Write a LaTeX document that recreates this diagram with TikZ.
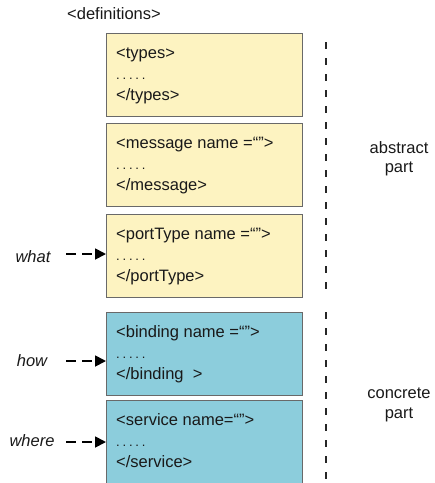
\documentclass[tikz,border=0pt]{standalone}
\usepackage{fontspec}
\setmainfont{Liberation Sans}
\usetikzlibrary{arrows.meta}

\definecolor{abstractfill}{RGB}{253,243,193}
\definecolor{concretefill}{RGB}{140,205,220}
\definecolor{boxline}{RGB}{105,105,105}
\definecolor{inktext}{RGB}{25,25,25}

\tikzset{
  part/.style={draw=boxline, line width=1pt, minimum width=196pt, minimum height=83pt,
    anchor=north west, inner sep=0pt},
  codeline/.style={anchor=base west, inner sep=0pt, font=\fontsize{16.5}{19}\selectfont, text=inktext},
  sidelabel/.style={anchor=base, inner sep=0pt, font=\fontsize{16.5}{19}\selectfont\itshape, text=inktext},
  rightlabel/.style={anchor=base, inner sep=0pt, font=\fontsize{16.5}{19}\selectfont, text=inktext},
  divider/.style={line width=2.2pt, draw=black!85, dash pattern=on 7pt off 9pt},
  pointer/.style={line width=1.8pt, dash pattern=on 10pt off 6pt,
    -{Triangle[length=11pt,width=11pt]}}
}

\newcommand{\dotrow}{{\fontsize{13}{15}\selectfont.\kern2.8pt.\kern2.8pt.\kern2.8pt.\kern2.8pt.}}

% one WSDL element: box, opening tag, dots, closing tag
\newcommand{\wsdlpart}[6][83pt]{%
  \node[part, fill=#4, minimum height=#1] (#2) at (106,#3) {};
  \node[codeline] (#2-open)  at ([xshift=10pt,yshift=-25pt]#2.north west) {#5};
  \node[codeline] (#2-dots)  at ([xshift=10pt,yshift=-46pt]#2.north west) {\dotrow};
  \node[codeline] (#2-close) at ([xshift=10pt,yshift=-67pt]#2.north west) {#6};
}

\begin{document}
\begin{tikzpicture}[x=1pt,y=-1pt]
  \useasboundingbox (0,0) rectangle (435,483);
  \clip (0,0) rectangle (435,483);
  \fill[white] (0,0) rectangle (435,483);

  \node[codeline] (defs) at (67,19) {<definitions>};

  \wsdlpart{types}{33}{abstractfill}{<types>}{</types>}
  \wsdlpart{message}{123}{abstractfill}{<message name =“”>}{</message>}
  \wsdlpart{porttype}{214}{abstractfill}{<portType name =“”>}{</portType>}
  \wsdlpart{binding}{312}{concretefill}{<binding name =“”>}{</binding\ \ >}
  \wsdlpart[100pt]{service}{400}{concretefill}{<service name=“”>}{</service>}

  % dividers between abstract and concrete parts
  \coordinate (absTop) at (326,42);
  \coordinate (absBot) at (326,296);
  \coordinate (conTop) at (326,312);
  \coordinate (conBot) at (326,490);
  \draw[divider] (absTop) -- (absBot);
  \draw[divider] (conTop) -- (conBot);

  \node[rightlabel] (abstract1) at (399,153) {abstract};
  \node[rightlabel] (abstract2) at (399,172) {part};
  \node[rightlabel] (concrete1) at (399,398) {concrete};
  \node[rightlabel] (concrete2) at (399,418) {part};

  % what / how / where pointers
  \node[sidelabel] (what) at (33,262) {what};
  \node[sidelabel] (how) at (32,366) {how};
  \node[sidelabel] (where) at (32,446) {where};
  \coordinate (whatStart) at (66,254);
  \coordinate (howStart) at (66,361);
  \coordinate (whereStart) at (66,442);
  \draw[pointer] (whatStart) -- (whatStart -| porttype.west);
  \draw[pointer] (howStart) -- (howStart -| binding.west);
  \draw[pointer] (whereStart) -- (whereStart -| service.west);
\end{tikzpicture}
\end{document}
